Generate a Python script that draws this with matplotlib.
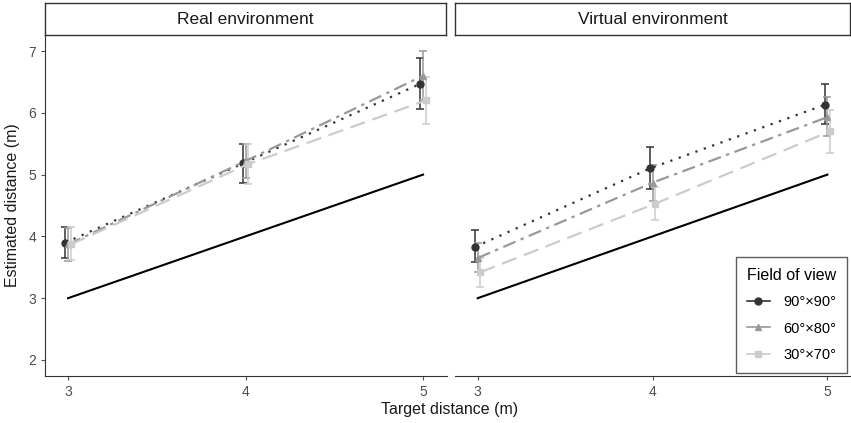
import matplotlib
matplotlib.use("Agg")
import matplotlib.pyplot as plt
from matplotlib.lines import Line2D
import numpy as np

plt.rcParams['font.family'] = ['Liberation Sans', 'DejaVu Sans']

targets = [3, 4, 5]
fov_labels = ["90°×90°", "60°×80°", "30°×70°"]
panels = ["Real environment", "Virtual environment"]

real_mean = {
    "90°×90°": [3.90, 5.18, 6.47],
    "60°×80°": [3.87, 5.22, 6.60],
    "30°×70°": [3.87, 5.17, 6.20],
}
real_lo = {
    "90°×90°": [3.65, 4.87, 6.07],
    "60°×80°": [3.60, 4.95, 6.20],
    "30°×70°": [3.62, 4.84, 5.82],
}
real_hi = {
    "90°×90°": [4.16, 5.49, 6.89],
    "60°×80°": [4.13, 5.50, 7.00],
    "30°×70°": [4.15, 5.50, 6.58],
}
virt_mean = {
    "90°×90°": [3.83, 5.10, 6.13],
    "60°×80°": [3.65, 4.87, 5.93],
    "30°×70°": [3.42, 4.53, 5.70],
}
virt_lo = {
    "90°×90°": [3.59, 4.77, 5.82],
    "60°×80°": [3.42, 4.58, 5.62],
    "30°×70°": [3.18, 4.27, 5.35],
}
virt_hi = {
    "90°×90°": [4.10, 5.45, 6.46],
    "60°×80°": [3.90, 5.16, 6.26],
    "30°×70°": [3.65, 4.80, 6.05],
}

colors = {"90°×90°": "#333333", "60°×80°": "#999999", "30°×70°": "#cccccc"}
markers = {"90°×90°": "o", "60°×80°": "^", "30°×70°": "s"}
styles = {"90°×90°": (0, (1, 3)), "60°×80°": (0, (6, 2.5, 1.5, 2.5)), "30°×70°": (0, (7, 3.5))}
dodge = {"90°×90°": -0.015, "60°×80°": 0.0, "30°×70°": 0.015}

W, H = 851, 423
fig = plt.figure(figsize=(W / 100, H / 100), dpi=100)

def fx(px):
    return px / W

def fy(py):
    return 1 - py / H

axes_px = [(45, 447), (455, 851)]
top_px, bot_px = 35, 376
data = [(real_mean, real_lo, real_hi), (virt_mean, virt_lo, virt_hi)]

for i, ((x0, x1), title, (mn, lo, hi)) in enumerate(zip(axes_px, panels, data)):
    ax = fig.add_axes([fx(x0), fy(bot_px), fx(x1 - x0), (bot_px - top_px) / H])
    ax.plot(targets, targets, color="black", lw=1.5, zorder=2)
    for lab in fov_labels:
        xs = np.array(targets) + dodge[lab]
        m = np.array(mn[lab]); l = np.array(lo[lab]); h = np.array(hi[lab])
        ax.errorbar(xs, m, yerr=[m - l, h - m], fmt="none", ecolor=colors[lab],
                    elinewidth=1.1, capsize=2.6, capthick=1.1, zorder=3)
        ax.plot(xs, m, color=colors[lab], linestyle=styles[lab], lw=1.6,
                marker=markers[lab], markersize=5, zorder=4)
    ax.set_xlim(2.87, 5.135)
    ax.set_ylim(1.74, 7.26)
    ax.set_xticks(targets)
    ax.set_yticks([2, 3, 4, 5, 6, 7])
    ax.tick_params(colors="#4d4d4d", labelsize=10, length=3, width=0.8)
    for s in ["top", "right"]:
        ax.spines[s].set_visible(False)
    ax.spines["bottom"].set_color("#333333")
    ax.spines["left"].set_color("#333333")
    if i == 1:
        ax.spines["left"].set_visible(False)
        ax.tick_params(axis="y", left=False, labelleft=False)
    else:
        ax.set_ylabel("Estimated distance (m)", fontsize=11.5, color="#1a1a1a",
                      labelpad=6)
    # strip
    sax = fig.add_axes([fx(x0), fy(top_px), fx(x1 - x0 - 1), (top_px - 3) / H])
    sax.set_xticks([]); sax.set_yticks([])
    for s in sax.spines.values():
        s.set_color("#333333"); s.set_linewidth(1.0)
    sax.text(0.5, 0.5, title, ha="center", va="center", fontsize=12.5,
             color="#1a1a1a", transform=sax.transAxes)
    if i == 1:
        handles = [Line2D([0], [0], color=colors[l], marker=markers[l], lw=1.2,
                          markersize=5) for l in fov_labels]
        leg = ax.legend(handles, fov_labels, title="Field of view",
                        loc="lower right", bbox_to_anchor=(0.99, 0.009),
                        borderaxespad=0.0,
                        frameon=True, fancybox=False, edgecolor="#333333",
                        fontsize=10.5, title_fontsize=11.5, handlelength=1.6,
                        borderpad=0.75, labelspacing=0.85, handletextpad=0.9)
        leg.get_frame().set_linewidth(1.0)
        leg._legend_box.align = "left"

fig.text(fx(450), fy(409), "Target distance (m)", ha="center", va="center",
         fontsize=11.5, color="#1a1a1a")

fig.savefig("out.png", dpi=100)
